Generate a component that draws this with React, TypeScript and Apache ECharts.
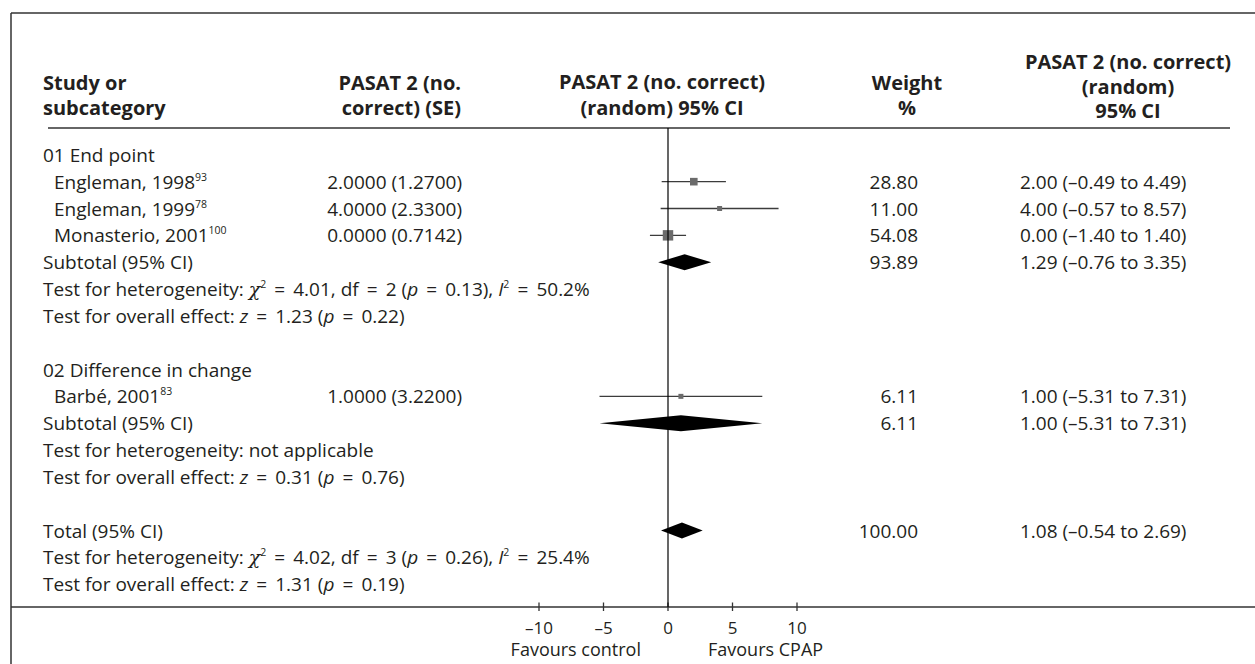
import React, { useEffect, useRef } from "react";
import * as echarts from "echarts";

const FONT = "'Open Sans', Lato, sans-serif";
const INK = "#231f20";
const FS = 19;
const HFS = 20;
const EQ = " \u2009=\u2009 ";

// ---------- data ----------
const groupTitles = ["01 End point", "02 Difference in change"];
const groupRows = [0, 8];

const studyNames = ["Engleman, 1998", "Engleman, 1999", "Monasterio, 2001", "Barbé, 2001"];
const studyRefs = ["93", "78", "100", "83"];
const studyRows = [1, 2, 3, 9];
const studyEffects = [2.0, 4.0, 0.0, 1.0];
const studySE = [1.27, 2.33, 0.7142, 3.22];
const studyLow = [-0.49, -0.57, -1.4, -5.31];
const studyHigh = [4.49, 8.57, 1.4, 7.31];
const studyWeights = [28.8, 11.0, 54.08, 6.11];

const pooledNames = ["Subtotal (95% CI)", "Subtotal (95% CI)", "Total (95% CI)"];
const pooledRows = [4, 10, 14];
const pooledEffects = [1.29, 1.0, 1.08];
const pooledLow = [-0.76, -5.31, -0.54];
const pooledHigh = [3.35, 7.31, 2.69];
const pooledWeights = [93.89, 6.11, 100.0];

const hetRows = [5, 11, 15];
const hetChi2: (number | null)[] = [4.01, null, 4.02];
const hetDf: (number | null)[] = [2, null, 3];
const hetP: (number | null)[] = [0.13, null, 0.26];
const hetI2: (number | null)[] = [50.2, null, 25.4];

const overallRows = [6, 12, 16];
const overallZ = [1.23, 0.31, 1.31];
const overallP = [0.22, 0.76, 0.19];

const xTicks = [-10, -5, 0, 5, 10];
const xMin = -10;
const xMax = 10;
const xStep = 5;
const yMin = -1;
const yMax = 16.85;

const headerStudy = "Study or\nsubcategory";
const headerEst = "PASAT 2 (no.\ncorrect) (SE)";
const headerPlot = "PASAT 2 (no. correct)\n(random) 95% CI";
const headerWeight = "Weight\n%";
const headerCI = "PASAT 2 (no. correct)\n(random)\n95% CI";
const favoursLeft = "Favours control";
const favoursRight = "Favours CPAP";

// ---------- helpers ----------
const signed = (v: number) => (v < 0 ? "–" + Math.abs(v).toFixed(2) : v.toFixed(2));
const ciText = (e: number, l: number, h: number) => `${e.toFixed(2)} (${signed(l)} to ${signed(h)})`;

const COLS: Record<string, { x: number; align: string }> = {
  label: { x: 43, align: "left" },
  study: { x: 54, align: "left" },
  est: { x: 462, align: "right" },
  weight: { x: 918, align: "right" },
  ci: { x: 1020, align: "left" },
};

type Row = { row: number; cells: [string, string][] };
const tableRows: Row[] = [];
groupTitles.forEach((t, i) => tableRows.push({ row: groupRows[i], cells: [["label", t]] }));
studyNames.forEach((n, i) =>
  tableRows.push({
    row: studyRows[i],
    cells: [
      ["study", `${n}{sup|${studyRefs[i]}}`],
      ["est", `${studyEffects[i].toFixed(4)} (${studySE[i].toFixed(4)})`],
      ["weight", studyWeights[i].toFixed(2)],
      ["ci", ciText(studyEffects[i], studyLow[i], studyHigh[i])],
    ],
  })
);
pooledNames.forEach((n, i) =>
  tableRows.push({
    row: pooledRows[i],
    cells: [
      ["label", n],
      ["weight", pooledWeights[i].toFixed(2)],
      ["ci", ciText(pooledEffects[i], pooledLow[i], pooledHigh[i])],
    ],
  })
);
hetRows.forEach((r, i) => {
  const c = hetChi2[i];
  const txt =
    c === null
      ? "Test for heterogeneity: not applicable"
      : `Test for heterogeneity: {g|χ}{sup|2}${EQ}${c.toFixed(2)}, df${EQ}${hetDf[i]} ({i|p}${EQ}${(
          hetP[i] as number
        ).toFixed(2)}), {i|I}{sup|2}${EQ}${(hetI2[i] as number).toFixed(1)}%`;
  tableRows.push({ row: r, cells: [["label", txt]] });
});
overallRows.forEach((r, i) =>
  tableRows.push({
    row: r,
    cells: [
      ["label", `Test for overall effect: {i|z}${EQ}${overallZ[i].toFixed(2)} ({i|p}${EQ}${overallP[i].toFixed(2)})`],
    ],
  })
);

const rich = {
  sup: { fontSize: 10.5, fontFamily: FONT, lineHeight: 10, verticalAlign: "top" },
  i: { fontSize: FS, fontFamily: FONT, fontStyle: "italic", lineHeight: 21 },
  g: { fontSize: FS, fontFamily: "'DejaVu Serif', serif", fontStyle: "italic", lineHeight: 21 },
};

const squareSize = (w: number) => Math.max(5, 1.42 * Math.sqrt(w));

export default function App() {
  const ref = useRef<HTMLDivElement>(null);
  useEffect(() => {
    const chart = echarts.init(ref.current!, null, { renderer: "svg" });
    const hdr = (text: string, x: number, y: number, align: string, lh: number) => ({
      type: "text",
      x,
      y,
      style: {
        text,
        fill: INK,
        fontFamily: FONT,
        fontSize: HFS,
        fontWeight: "bold",
        lineHeight: lh,
        align,
        verticalAlign: "middle",
      },
    });
    const option: any = {
      animation: false,
      backgroundColor: "#fff",
      grid: { left: 539, right: 458, top: 128, bottom: 57, containLabel: false },
      xAxis: {
        type: "value",
        min: xMin,
        max: xMax,
        interval: xStep,
        position: "bottom",
        axisLine: { show: false },
        axisTick: { show: false },
        axisLabel: {
          show: true,
          margin: 12,
          color: INK,
          fontFamily: FONT,
          fontSize: 17,
          lineHeight: 16,
          formatter: (v: number) => (v < 0 ? "–" + Math.abs(v) : String(v)),
        },
        splitLine: { show: false },
      },
      yAxis: { type: "value", inverse: true, min: yMin, max: yMax, show: false },
      graphic: [
        { type: "line", shape: { x1: 11, y1: 13, x2: 1255, y2: 13 }, style: { stroke: "#333", lineWidth: 1.5 } },
        { type: "line", shape: { x1: 11, y1: 13, x2: 11, y2: 664 }, style: { stroke: "#333", lineWidth: 1.5 } },
        { type: "line", shape: { x1: 48, y1: 128, x2: 1230, y2: 128 }, style: { stroke: "#333", lineWidth: 1.5 } },
        { type: "line", shape: { x1: 11, y1: 607, x2: 1255, y2: 607 }, style: { stroke: "#333", lineWidth: 1.5 } },
        hdr(headerStudy, 43, 94.5, "left", 25),
        hdr(headerEst, 461, 94.5, "right", 25),
        hdr(headerPlot, 662, 94, "center", 26),
        hdr(headerWeight, 907, 94.5, "center", 25),
        hdr(headerCI, 1128, 86, "center", 24.5),
        {
          type: "text",
          x: 641,
          y: 649,
          style: {
            text: favoursLeft,
            fill: INK,
            fontFamily: FONT,
            fontSize: 18,
            lineHeight: 16,
            align: "right",
            verticalAlign: "middle",
          },
        },
        {
          type: "text",
          x: 708,
          y: 649,
          style: {
            text: favoursRight,
            fill: INK,
            fontFamily: FONT,
            fontSize: 18,
            lineHeight: 16,
            align: "left",
            verticalAlign: "middle",
          },
        },
      ],
      series: [
        {
          type: "line",
          data: [
            [0, yMin],
            [0, yMax],
          ],
          symbol: "none",
          silent: true,
          lineStyle: { color: "#000", width: 1.2 },
        },
        {
          type: "custom",
          clip: false,
          silent: true,
          data: xTicks.map((v) => [v, yMax]),
          encode: { x: 0, y: 1 },
          renderItem: (_p: any, api: any) => {
            const c = api.coord([api.value(0), api.value(1)]);
            return {
              type: "line",
              shape: { x1: c[0], y1: c[1] - 4.5, x2: c[0], y2: c[1] + 4 },
              style: { stroke: "#333", lineWidth: 1.3 },
            };
          },
        },
        {
          type: "custom",
          clip: false,
          silent: true,
          data: studyRows.map((r, i) => [studyEffects[i], r, studyLow[i], studyHigh[i], studyWeights[i]]),
          encode: { x: [0, 2, 3], y: 1 },
          renderItem: (_p: any, api: any) => {
            const row = api.value(1);
            const c = api.coord([api.value(0), row]);
            const l = api.coord([api.value(2), row]);
            const h = api.coord([api.value(3), row]);
            const s = squareSize(api.value(4));
            return {
              type: "group",
              children: [
                {
                  type: "line",
                  shape: { x1: l[0], y1: c[1], x2: h[0], y2: c[1] },
                  style: { stroke: "#3c3c3c", lineWidth: 1.3 },
                },
                {
                  type: "rect",
                  shape: { x: c[0] - s / 2, y: c[1] - s / 2, width: s, height: s },
                  style: { fill: "#6b6b6b" },
                },
              ],
            };
          },
        },
        {
          type: "custom",
          clip: false,
          silent: true,
          data: pooledRows.map((r, i) => [pooledEffects[i], r, pooledLow[i], pooledHigh[i]]),
          encode: { x: [0, 2, 3], y: 1 },
          renderItem: (_p: any, api: any) => {
            const row = api.value(1);
            const c = api.coord([api.value(0), row]);
            const l = api.coord([api.value(2), row]);
            const h = api.coord([api.value(3), row]);
            return {
              type: "polygon",
              shape: {
                points: [
                  [l[0], c[1]],
                  [c[0], c[1] - 8],
                  [h[0], c[1]],
                  [c[0], c[1] + 8],
                ],
              },
              style: { fill: "#000" },
            };
          },
        },
        {
          type: "custom",
          clip: false,
          silent: true,
          data: tableRows.map((r) => [0, r.row]),
          encode: { x: 0, y: 1 },
          renderItem: (p: any, api: any) => {
            const tr = tableRows[p.dataIndex];
            const y = api.coord([0, api.value(1)])[1];
            return {
              type: "group",
              children: tr.cells.map(([col, text]) => ({
                type: "text",
                x: COLS[col].x,
                y,
                style: {
                  text,
                  fill: INK,
                  fontFamily: FONT,
                  fontSize: FS,
                  lineHeight: 21,
                  align: COLS[col].align,
                  verticalAlign: "middle",
                  rich,
                },
              })),
            };
          },
        },
      ],
    };
    chart.setOption(option);
    return () => chart.dispose();
  }, []);
  return (
    <div
      ref={ref}
      style={{ position: "fixed", left: 0, top: 0, width: 1255, height: 664, background: "#fff" }}
    />
  );
}
